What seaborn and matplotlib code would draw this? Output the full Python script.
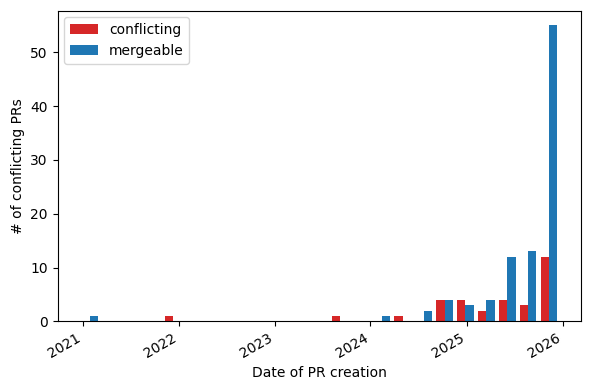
import numpy as np
import pandas as pd
import matplotlib
matplotlib.use("Agg")
import matplotlib.pyplot as plt
import matplotlib.dates as mdates
import seaborn as sns

# histogram range and number of bins (dates of PR creation)
first_date = "2020-12-19"
last_date = "2025-12-20"
n_bins = 23

# PR counts per bin
conflicting = [0, 0, 0, 0, 1, 0, 0, 0, 0, 0, 0, 0, 1, 0, 0, 1, 0, 4, 4, 2, 4, 3, 12]
mergeable = [1, 0, 0, 0, 0, 0, 0, 0, 0, 0, 0, 0, 0, 0, 1, 0, 2, 4, 3, 4, 12, 13, 55]

edges = np.linspace(mdates.date2num(pd.Timestamp(first_date)),
                    mdates.date2num(pd.Timestamp(last_date)), n_bins + 1)
centers = pd.to_datetime(mdates.num2date((edges[:-1] + edges[1:]) / 2)).tz_localize(None)

df = pd.concat([
    pd.DataFrame({"date": centers, "count": conflicting, "status": "conflicting"}),
    pd.DataFrame({"date": centers, "count": mergeable, "status": "mergeable"}),
], ignore_index=True)

fig, ax = plt.subplots(figsize=(5.9, 3.9), dpi=100)
sns.histplot(data=df, x="date", weights="count", hue="status",
             hue_order=["conflicting", "mergeable"],
             palette=["#d62728", "#1f77b4"], bins=list(edges),
             multiple="dodge", shrink=0.8, alpha=1, linewidth=0,
             edgecolor="none", ax=ax)

ax.xaxis.set_major_locator(mdates.YearLocator())
ax.xaxis.set_major_formatter(mdates.DateFormatter("%Y"))
ax.set_xlabel("Date of PR creation")
ax.set_ylabel("# of conflicting PRs")
sns.move_legend(ax, "upper left", title=None)
fig.autofmt_xdate()
fig.subplots_adjust(left=0.0975, right=0.985, top=0.973, bottom=0.176)
fig.savefig("out.png")
